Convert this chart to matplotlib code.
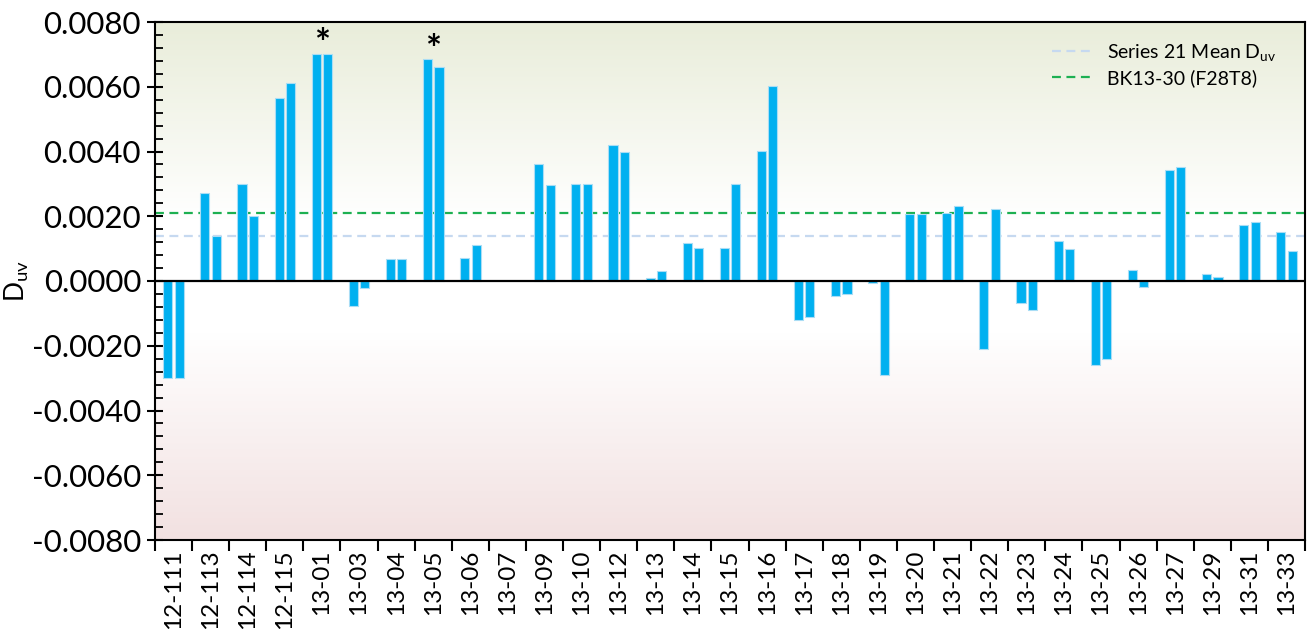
import numpy as np
import matplotlib
matplotlib.use("Agg")
import matplotlib.pyplot as plt
from matplotlib.colors import LinearSegmentedColormap
from matplotlib.ticker import MultipleLocator, FuncFormatter

# ---------------- data ----------------
categories = ["12-111", "12-113", "12-114", "12-115", "13-01", "13-03", "13-04",
              "13-05", "13-06", "13-07", "13-09", "13-10", "13-12", "13-13",
              "13-14", "13-15", "13-16", "13-17", "13-18", "13-19", "13-20",
              "13-21", "13-22", "13-23", "13-24", "13-25", "13-26", "13-27",
              "13-29", "13-31", "13-33"]
series_a = [-0.0030, 0.00271, 0.00300, 0.00564, 0.00701, -0.00077, 0.00068,
            0.00685, 0.00070, np.nan, 0.00360, 0.00300, 0.00419, 0.00010,
            0.00116, 0.00101, 0.00402, -0.00121, -0.00045, -0.00005, 0.00206,
            0.00209, -0.00211, -0.00069, 0.00124, -0.00260, 0.00035, 0.00342,
            0.00021, 0.00172, 0.00151]
series_b = [-0.0030, 0.00139, 0.00201, 0.00611, 0.00701, -0.00022, 0.00068,
            0.00662, 0.00111, np.nan, 0.00297, 0.00300, 0.00399, 0.00031,
            0.00101, 0.00300, 0.00601, -0.00111, -0.00040, -0.00290, 0.00207,
            0.00232, 0.00221, -0.00090, 0.00099, -0.00240, -0.00019, 0.00352,
            0.00011, 0.00182, 0.00092]
mean_duv = 0.0014          # Series 21 Mean Duv
bk13_30 = 0.0021           # BK13-30 (F28T8)
starred = ["13-01", "13-05"]
y_ticks = [-0.008, -0.006, -0.004, -0.002, 0.0, 0.002, 0.004, 0.006, 0.008]

# ---------------- style ----------------
plt.rcParams['font.family'] = ['Lato', 'DejaVu Sans']
plt.rcParams['mathtext.fontset'] = 'custom'
plt.rcParams['mathtext.rm'] = 'Lato'
plt.rcParams['mathtext.it'] = 'Lato'

fig = plt.figure(figsize=(13.09, 6.29), dpi=100)
ax = fig.add_axes([155/1309, 1-540/629, (1305-155)/1309, (540-22)/629])

# background gradient
stops = [(0.0, (242/255, 225/255, 225/255)),
         (0.40, (1, 1, 1)),
         (0.62, (1, 1, 1)),
         (1.0, (233/255, 237/255, 218/255))]
cmap = LinearSegmentedColormap.from_list("bg", stops)
grad = np.linspace(0, 1, 256).reshape(-1, 1)
ax.imshow(grad, cmap=cmap, origin='lower', aspect='auto',
          extent=[0, 1, 0, 1], transform=ax.transAxes, zorder=0)

x = np.arange(len(categories))
w = 0.245
off = 0.155
bar_kw = dict(width=w, color='#00B0F0', edgecolor='#A9DDF5', linewidth=0.8, zorder=3)
ax.bar(x - off, series_a, **bar_kw)
ax.bar(x + off, series_b, **bar_kw)

ax.axhline(0, color='black', lw=1.6, zorder=4)
ax.axhline(mean_duv, color='#C6D9F0', lw=1.6, ls=(0, (4, 2.5)), zorder=2,
           label=r'Series 21 Mean D$_{\mathrm{uv}}$')
ax.axhline(bk13_30, color='#1DB052', lw=1.6, ls=(0, (4, 2.5)), zorder=2,
           label='BK13-30 (F28T8)')

for c in starred:
    i = categories.index(c)
    top = np.nanmax([series_a[i], series_b[i]])
    ax.annotate('*', xy=(i, top), xytext=(0, -6), textcoords='offset points',
                ha='center', va='bottom', fontsize=27, fontweight='bold', zorder=5)

ax.set_xlim(-0.5, len(categories) - 0.5)
ax.set_ylim(-0.008, 0.008)
ax.set_yticks(y_ticks)
ax.yaxis.set_major_formatter(FuncFormatter(lambda v, p: f"{v:.4f}".replace("-0.0000", "0.0000")))
ax.yaxis.set_minor_locator(MultipleLocator(0.0004))
ax.tick_params(axis='y', which='major', direction='inout', length=12, width=1.5,
               labelsize=22.5, pad=4)
ax.tick_params(axis='y', which='minor', direction='in', length=6, width=1.3)

ax.set_xticks(x)
ax.set_xticklabels(categories, rotation=90)
ax.set_xticks(np.arange(-0.5, len(categories)), minor=True)
ax.tick_params(axis='x', which='major', length=0, labelsize=17.5, pad=7)
ax.tick_params(axis='x', which='minor', direction='out', length=8, width=1.5)

for s in ax.spines.values():
    s.set_color('black')
    s.set_linewidth(1.5)

ax.set_ylabel(r'D$_{\mathrm{uv}}$', fontsize=19)
ax.yaxis.set_label_coords((31 - 155) / 1150, 0.5)

leg = ax.legend(loc='upper right', bbox_to_anchor=(0.99, 0.995), frameon=False,
                fontsize=14, handlelength=2.2, handletextpad=0.6, labelspacing=0.3)

fig.savefig('out.png', dpi=100)
